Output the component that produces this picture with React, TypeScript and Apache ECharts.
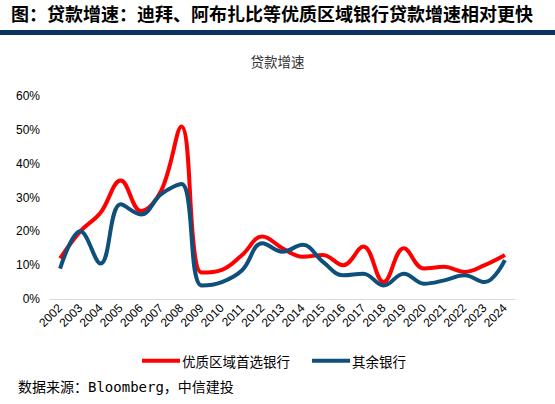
import React, { useEffect, useRef } from "react";
import * as echarts from "echarts";

const years = ["2002","2003","2004","2005","2006","2007","2008","2009","2010","2011","2012","2013","2014","2015","2016","2017","2018","2019","2020","2021","2022","2023","2024"];
const premium = [12, 20, 25.5, 35, 26, 32, 51, 7.8, 8.6, 13, 18.5, 15, 12.5, 13, 10, 15.5, 5, 15, 9, 9.5, 8, 10, 13];
const others = [9, 20, 10.5, 28, 25, 31, 34, 4, 5, 8.5, 16.5, 14, 16, 11, 7, 7.5, 4, 7.5, 4.5, 5.5, 7, 5, 11.5];
const seriesNames = ["优质区域首选银行", "其余银行"];
const yTicks = [0, 10, 20, 30, 40, 50, 60];

export default function App() {
  const ref = useRef<HTMLDivElement>(null);
  useEffect(() => {
    if (!ref.current) return;
    const chart = echarts.init(ref.current, null, { renderer: "svg" });
    chart.setOption({
      animation: false,
      backgroundColor: "#ffffff",
      title: {
        text: "贷款增速",
        left: "center",
        top: 49,
        textStyle: { fontSize: 13.5, fontWeight: "normal", color: "#333", fontFamily: "Noto Sans CJK SC" },
      },
      graphic: [
        {
          type: "text",
          left: 11,
          top: 4,
          style: {
            text: "图：贷款增速：迪拜、阿布扎比等优质区域银行贷款增速相对更快",
            fontSize: 18,
            fontWeight: "bold",
            fill: "#000",
            fontFamily: "Noto Sans CJK SC",
          },
        },
        {
          type: "rect",
          shape: { x: 0, y: 30, width: 555, height: 5 },
          style: { fill: "#0B3263" },
        },
        {
          type: "text",
          left: 18,
          top: 380,
          style: {
            text: "数据来源：Bloomberg，中信建投",
            fontSize: 14,
            fill: "#000",
            fontFamily: "DejaVu Sans Mono, Noto Sans CJK SC",
          },
        },
      ],
      legend: {
        left: 137,
        top: 349,
        icon: "rect",
        itemWidth: 38,
        itemHeight: 4,
        itemGap: 22,
        textStyle: { fontSize: 13.5, color: "#000", fontFamily: "Noto Sans CJK SC", padding: [0, 0, 0, -3] },
        data: seriesNames,
      },
      grid: { left: 50, right: 40, top: 96, bottom: 105 },
      xAxis: {
        type: "category",
        data: years,
        boundaryGap: true,
        axisLine: { lineStyle: { color: "#d9d9d9" } },
        axisTick: { inside: true, length: 4, lineStyle: { color: "#d9d9d9" } },
        axisLabel: { rotate: 45, fontSize: 12, color: "#000", interval: 0, margin: 7, fontFamily: "Liberation Sans" },
      },
      yAxis: {
        type: "value",
        min: yTicks[0],
        max: yTicks[yTicks.length - 1],
        interval: 10,
        axisLine: { show: false },
        axisTick: { show: false },
        splitLine: { show: false },
        axisLabel: { formatter: "{value}%", fontSize: 12, color: "#000", margin: 10, fontFamily: "Liberation Sans" },
      },
      series: [
        {
          name: seriesNames[0],
          type: "line",
          data: premium,
          smooth: 0.4,
          showSymbol: false,
          lineStyle: { width: 4, color: "#FF0000" },
          itemStyle: { color: "#FF0000" },
        },
        {
          name: seriesNames[1],
          type: "line",
          data: others,
          smooth: 0.4,
          showSymbol: false,
          lineStyle: { width: 4, color: "#0E4F7C" },
          itemStyle: { color: "#0E4F7C" },
        },
      ],
    });
    return () => chart.dispose();
  }, []);
  return <div ref={ref} style={{ position: "fixed", left: 0, top: 0, width: 555, height: 404 }} />;
}
